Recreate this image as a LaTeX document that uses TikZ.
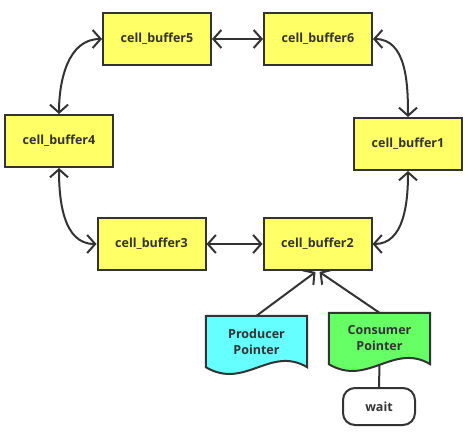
\documentclass[tikz,border=0pt]{standalone}
\usepackage{fontspec}
\setmainfont{Open Sans}
\usetikzlibrary{arrows.meta,positioning,calc,backgrounds}

\definecolor{ink}{HTML}{333333}
\definecolor{cellyellow}{HTML}{FFFF66}
\definecolor{prodcyan}{HTML}{66FFFF}
\definecolor{conspgreen}{HTML}{66FF66}

\tikzset{
	cell/.style = {draw=ink, fill=cellyellow, line width=2pt, minimum width=108pt, minimum height=52pt, text=ink, font=\bfseries\fontsize{12.5}{15}\selectfont},
	ptr/.style = {minimum width=101pt, minimum height=51pt, align=center, text=ink, font=\bfseries\fontsize{12.5}{16}\selectfont},
	link/.style = {draw=ink, line width=2pt, {Straight Barb[length=8pt,width=18pt]}-{Straight Barb[length=8pt,width=18pt]}},
	onelink/.style = {draw=ink, line width=2pt, -{Straight Barb[length=8pt,width=18pt]}},
}

% document shape with a wavy bottom, behind the node
\newcommand{\docshape}[2]{%
	\begin{pgfonlayer}{background}
		\draw[draw=ink, fill=#2, line width=2pt] (#1.north west) -- (#1.north east) -- (#1.south east)
			.. controls ($(#1.south east)+(-37,22)$) and ($(#1.south west)+(39,-23)$) .. (#1.south west) -- cycle;
	\end{pgfonlayer}}

\begin{document}
\begin{tikzpicture}[x=1pt, y=1pt]
	\useasboundingbox (0,0) rectangle (466,-433);

	\node[cell] (b5) at (157,-39) {cell\_buffer5};
	\node[cell] (b6) at (318,-39) {cell\_buffer6};
	\node[cell] (b4) at (59,-141) {cell\_buffer4};
	\node[cell] (b1) at (408,-144) {cell\_buffer1};
	\node[cell] (b3) at (151.5,-244) {cell\_buffer3};
	\node[cell] (b2) at (317.5,-244) {cell\_buffer2};

	\draw[link] (b5) -- (b6);
	\draw[link] (b3) -- (b2);
	\draw[link] (b5.west) to[out=180, in=90] (b4.north);
	\draw[link] (b6.east) to[out=0, in=90] (b1.north);
	\draw[link] (b4.south) to[out=-90, in=180] (b3.west);
	\draw[link] (b1.south) to[out=-90, in=0] (b2.east);

	\node[ptr] (prod) at (256.5,-341.5) {Producer\\Pointer};
	\docshape{prod}{prodcyan}
	\node[ptr] (cons) at (379.5,-338.5) {Consumer\\Pointer};
	\docshape{cons}{conspgreen}

	\coordinate (b2in) at ($(b2.south)+(-2,-1)$);
	\coordinate (b2out) at ($(b2.south)+(2,-1)$);
	\draw[onelink] (prod.north) -- (b2in);
	\draw[onelink] (cons.north) -- (b2out);

	\node[draw=ink, line width=2pt, rounded corners=12pt, minimum width=72pt, minimum height=37pt, text=ink, font=\bfseries\fontsize{12.5}{15}\selectfont] (wait) at (379,-406.5) {wait};
	\draw[draw=ink, line width=2pt] (cons.south) -- (wait.north);
\end{tikzpicture}
\end{document}
